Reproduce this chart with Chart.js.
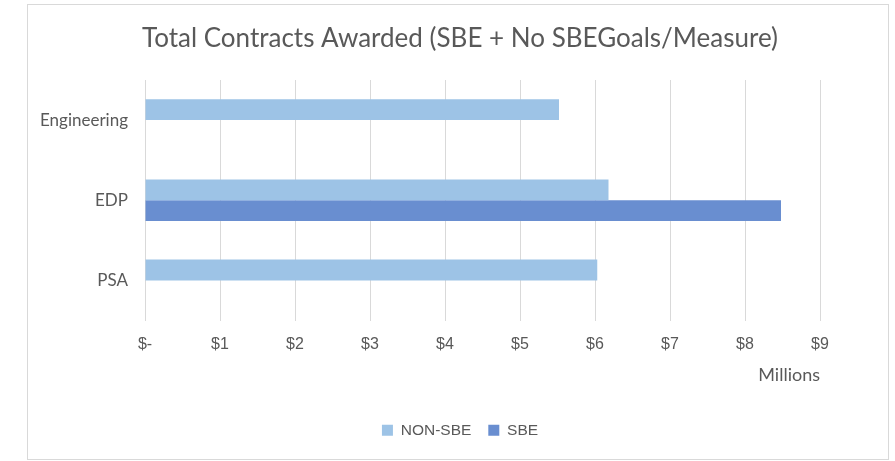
<!DOCTYPE html>
<html>
<head>
<meta charset="utf-8">
<script src="https://cdn.jsdelivr.net/npm/chart.js@4.4.1/dist/chart.umd.min.js"></script>
<style>
html,body{margin:0;padding:0;background:#fff;}
#wrap{width:895px;height:461px;position:relative;}
</style>
</head>
<body>
<div id="wrap"><canvas id="c" width="895" height="461"></canvas></div>
<script>
const categories = ['Engineering', 'EDP', 'PSA'];
const seriesNames = ['NON-SBE', 'SBE'];
const nonSbeValues = [5.52, 6.18, 6.03];
const sbeValues = [null, 8.48, null];
const xTickValues = [0, 1, 2, 3, 4, 5, 6, 7, 8, 9];
const chartTitle = 'Total Contracts Awarded (SBE + No SBEGoals/Measure)';
const axisTitle = 'Millions';

const textColor = '#595959';

const frame = {
  id: 'frame',
  beforeDraw(chart) {
    const ctx = chart.ctx;
    ctx.save();
    ctx.fillStyle = '#fff';
    ctx.fillRect(0, 0, chart.width, chart.height);
    ctx.strokeStyle = '#D9D9D9';
    ctx.lineWidth = 1;
    ctx.strokeRect(27.5, 4.5, 861, 455);
    ctx.restore();
  }
};

new Chart(document.getElementById('c'), {
  type: 'bar',
  data: {
    labels: categories,
    datasets: [
      { label: seriesNames[0], data: nonSbeValues, backgroundColor: '#9DC3E6', borderWidth: 0 },
      { label: seriesNames[1], data: sbeValues, backgroundColor: '#698ED0', borderWidth: 0 }
    ]
  },
  options: {
    indexAxis: 'y',
    responsive: false,
    animation: false,
    devicePixelRatio: 1,
    categoryPercentage: 0.52,
    barPercentage: 1,
    layout: { padding: { left: 28, right: 3, top: 0, bottom: 13 } },
    plugins: {
      title: {
        display: true,
        text: chartTitle,
        color: textColor,
        font: { family: 'Lato', size: 26, weight: 'normal' },
        padding: { top: 23, bottom: 25.8 }
      },
      legend: {
        position: 'bottom',
        labels: {
          color: textColor,
          font: { family: '"Liberation Sans", Arial', size: 15.5 },
          boxWidth: 11,
          boxHeight: 11,
          padding: 17
        }
      },
      tooltip: { enabled: false }
    },
    scales: {
      x: {
        min: 0,
        max: 9,
        afterBuildTicks(scale) { scale.ticks = xTickValues.map(v => ({ value: v })); },
        afterFit(scale) { scale.height = 85; },
        ticks: {
          color: textColor,
          font: { family: '"Liberation Sans", Arial', size: 16 },
          padding: 14,
          callback: v => v === 0 ? '$-' : '$' + v
        },
        grid: { color: '#D9D9D9', lineWidth: 1, drawTicks: false },
        border: { display: false },
        title: {
          display: true,
          text: axisTitle,
          align: 'end',
          color: textColor,
          font: { family: 'Lato', size: 18 },
          padding: { top: 0, bottom: 20 }
        }
      },
      y: {
        ticks: {
          color: textColor,
          font: { family: 'Lato', size: 17 },
          padding: 17
        },
        grid: { display: false, drawTicks: false },
        border: { display: false },
        afterFit(scale) { scale.width = 145 - 28; }
      },
      yRight: {
        type: 'category',
        position: 'right',
        labels: categories,
        ticks: { display: false },
        grid: { display: false, drawTicks: false },
        border: { display: false },
        afterFit(scale) { scale.width = 72; }
      }
    }
  },
  plugins: [frame]
});
</script>
</body>
</html>
